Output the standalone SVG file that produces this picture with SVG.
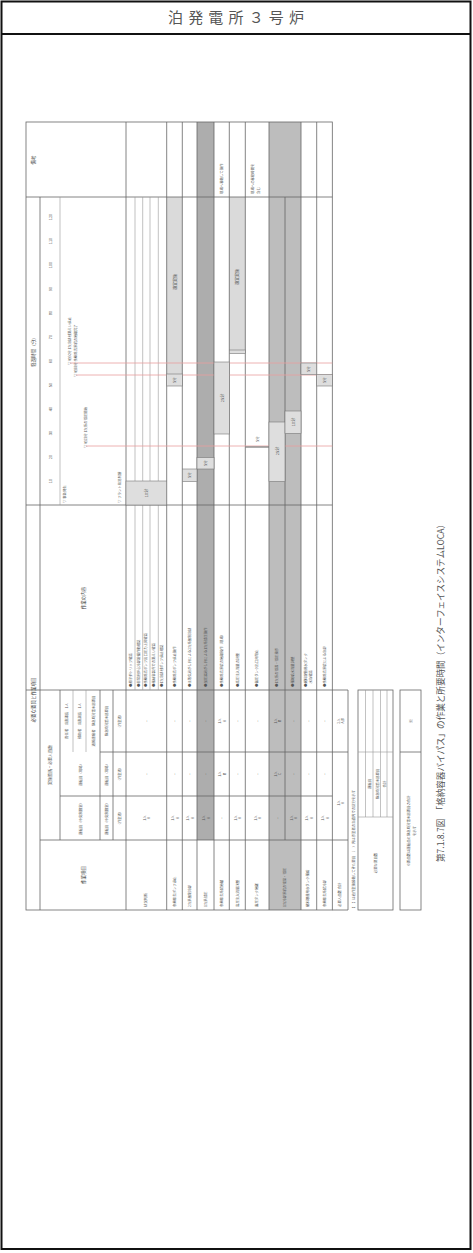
<svg xmlns="http://www.w3.org/2000/svg" width="473" height="1253" viewBox="0 0 473 1253">
<style>
text{font-family:"Noto Sans CJK JP","Noto Sans",sans-serif;fill:#555}
.t{font-size:4px}
.s{font-size:3.4px}
.h{font-size:4.5px;fill:#444}
.ln{stroke:#666;stroke-width:0.8;fill:none}
.lt{stroke:#999;stroke-width:0.6;fill:none}
.red{stroke:#e8a0a0;stroke-width:0.8}
.dk{fill:#adadad}
.md{fill:#bdbdbd}
.lg{fill:#dadada}
.bx{fill:#dedede;stroke:#777;stroke-width:0.6}
.c{text-anchor:middle;dominant-baseline:central}
</style>
<rect x="0" y="0" width="473" height="1253" fill="#fff"/>
<g id="frame">
<rect x="1.5" y="1.5" width="469" height="1247.5" fill="none" stroke="#111" stroke-width="2"/>
<line x1="1.5" y1="34" x2="470.5" y2="34" stroke="#111" stroke-width="2"/>
<text x="236" y="23" font-size="15" text-anchor="middle" textLength="136" fill="#333">泊発電所３号炉</text>
</g>
<g id="fills">
<rect x="197" y="122" width="17" height="718" class="dk"/>
<rect x="269" y="122" width="32" height="788" class="md"/>
<rect x="166.7" y="197" width="15.6" height="177" class="lg"/>
<rect x="229.3" y="197" width="16" height="155" class="lg"/>
</g>
<g id="grid">
<rect x="26" y="122" width="306.3" height="788" class="ln"/>
<line x1="26" y1="197" x2="332.3" y2="197" class="ln"/>
<line x1="26" y1="505" x2="332.3" y2="505" class="ln"/>
<line x1="26" y1="690" x2="348" y2="690" class="ln"/>
<line x1="100" y1="752" x2="348" y2="752" class="ln"/>
<line x1="60" y1="796" x2="332.3" y2="796" class="ln"/>
<line x1="40" y1="840" x2="348" y2="840" class="ln"/>
<line x1="332.3" y1="910" x2="348" y2="910" class="ln"/>
<line x1="348" y1="690" x2="348" y2="910" class="ln"/>
<line x1="126" y1="122" x2="126" y2="910" class="ln"/>
<line x1="166.7" y1="122" x2="166.7" y2="910" class="ln"/>
<line x1="182.3" y1="122" x2="182.3" y2="910" class="ln"/>
<line x1="197" y1="122" x2="197" y2="910" class="ln"/>
<line x1="214" y1="122" x2="214" y2="910" class="ln"/>
<line x1="229.3" y1="122" x2="229.3" y2="910" class="ln"/>
<line x1="245.3" y1="122" x2="245.3" y2="910" class="ln"/>
<line x1="269" y1="122" x2="269" y2="910" class="ln"/>
<line x1="285" y1="197" x2="285" y2="840" class="ln"/>
<line x1="301" y1="122" x2="301" y2="910" class="ln"/>
<line x1="316.7" y1="122" x2="316.7" y2="910" class="ln"/>
<line x1="135" y1="197" x2="135" y2="690" class="lt"/>
<line x1="142.7" y1="197" x2="142.7" y2="690" class="lt"/>
<line x1="150" y1="197" x2="150" y2="690" class="lt"/>
<line x1="158.3" y1="197" x2="158.3" y2="690" class="lt"/>
<line x1="40" y1="197" x2="40" y2="910" class="ln"/>
<line x1="60" y1="197" x2="60" y2="505" class="lt"/>
<line x1="60" y1="690" x2="60" y2="840" class="ln"/>
<line x1="100" y1="690" x2="100" y2="840" class="ln"/>
<line x1="113" y1="690" x2="113" y2="840" class="ln"/>
<line x1="73" y1="690" x2="73" y2="752" class="lt"/>
<line x1="86" y1="690" x2="86" y2="752" class="lt"/>
</g>
<g id="header">
<text class="h c" transform="translate(33,160) rotate(-90)">備考</text>
<text class="h c" transform="translate(33,351) rotate(-90)">経過時間（分）</text>
<text class="h c" transform="translate(33,700) rotate(-90)">必要な要員と作業項目</text>
<text class="h c" transform="translate(83,598) rotate(-90)">作業の内容</text>
<text class="h c" transform="translate(83,875) rotate(-90)">作業項目</text>
<text class="t c" transform="translate(50,765) rotate(-90)">実施箇所・必要人員数</text>
<text class="s c" transform="translate(66.5,721) rotate(-90)">責任者　当直課長　1人</text>
<text class="s c" transform="translate(79.5,721) rotate(-90)">補助者　当直副長　1人</text>
<text class="s c" transform="translate(93,721) rotate(-90)">通報連絡者　緊急時対策本部要員</text>
<text class="s c" transform="translate(80,774) rotate(-90)">運転員（現場）</text>
<text class="s c" transform="translate(80,818) rotate(-90)">運転員（中央制御室）</text>
<text class="s c" transform="translate(106.5,721) rotate(-90)">緊急時対策本部要員</text>
<text class="s c" transform="translate(106.5,774) rotate(-90)">運転員（現場）</text>
<text class="s c" transform="translate(106.5,818) rotate(-90)">運転員（中央制御室）</text>
<text class="s c" transform="translate(119.5,721) rotate(-90)">（作業者）</text>
<text class="s c" transform="translate(119.5,774) rotate(-90)">（作業者）</text>
<text class="s c" transform="translate(119.5,818) rotate(-90)">（作業者）</text>
</g>
<g id="timeline">
<line x1="70" y1="363" x2="332.3" y2="363" class="red"/>
<line x1="76" y1="375" x2="332.3" y2="375" class="red"/>
<line x1="86" y1="446" x2="332.3" y2="446" class="red"/>
<g class="t c">
<text transform="translate(50,481) rotate(-90)">10</text>
<text transform="translate(50,457) rotate(-90)">20</text>
<text transform="translate(50,433) rotate(-90)">30</text>
<text transform="translate(50,409) rotate(-90)">40</text>
<text transform="translate(50,385) rotate(-90)">50</text>
<text transform="translate(50,361) rotate(-90)">60</text>
<text transform="translate(50,337) rotate(-90)">70</text>
<text transform="translate(50,313) rotate(-90)">80</text>
<text transform="translate(50,289) rotate(-90)">90</text>
<text transform="translate(50,265) rotate(-90)">100</text>
<text transform="translate(50,241) rotate(-90)">110</text>
<text transform="translate(50,217) rotate(-90)">120</text>
</g>
<text class="s" transform="translate(66,503) rotate(-90)">▽ 事象発生</text>
<text class="s" transform="translate(121,503) rotate(-90)">▽ プラント状況判断</text>
<text class="s" transform="translate(87,448) rotate(-90)">▽ 約25分 1次系の減圧開始</text>
<text class="s" transform="translate(77,377) rotate(-90)">▽ 約55分 余熱除去系統の隔離完了</text>
<text class="s" transform="translate(71,365) rotate(-90)">▽ 約60分 1次冷却材漏えい停止</text>
</g>
<g id="bars">
<rect x="126" y="481" width="40.7" height="24" class="bx"/>
<text class="t c" transform="translate(146,493) rotate(-90)">10分</text>
<rect x="166.7" y="374" width="15.6" height="12" class="bx"/>
<text class="s c" transform="translate(174.5,380) rotate(-90)">5分</text>
<text class="t c" transform="translate(174.5,282) rotate(-90)">適宜実施</text>
<rect x="182.3" y="469" width="14.7" height="12.5" class="bx"/>
<text class="s c" transform="translate(189.6,475) rotate(-90)">5分</text>
<rect x="197" y="457.5" width="17" height="11.5" class="bx"/>
<text class="s c" transform="translate(205.5,463) rotate(-90)">5分</text>
<rect x="214" y="362" width="15.3" height="72" class="bx"/>
<text class="t c" transform="translate(221.6,398) rotate(-90)">25分</text>
<rect x="229.3" y="350" width="16" height="3.5" class="bx"/>
<text class="t c" transform="translate(237.3,277) rotate(-90)">適宜実施</text>
<line x1="245.3" y1="447" x2="269" y2="447" stroke="#777" stroke-width="1.2"/>
<text class="s c" transform="translate(257,439) rotate(-90)">5分</text>
<rect x="269" y="422" width="16" height="59.5" class="bx"/>
<text class="t c" transform="translate(277,451) rotate(-90)">25分</text>
<rect x="285" y="411" width="16" height="22.5" class="bx"/>
<text class="t c" transform="translate(293,422) rotate(-90)">10分</text>
<rect x="301" y="363" width="15.7" height="11.5" class="bx"/>
<text class="s c" transform="translate(308.8,369) rotate(-90)">5分</text>
<rect x="316.7" y="374.5" width="15.6" height="11.5" class="bx"/>
<text class="s c" transform="translate(324.5,380) rotate(-90)">5分</text>
</g>
<g id="tasks" class="s">
<text transform="translate(131.5,687) rotate(-90)">●原子炉トリップ確認</text>
<text transform="translate(139.5,687) rotate(-90)">●非常用炉心冷却設備作動確認</text>
<text transform="translate(147,687) rotate(-90)">●余熱除去ポンプ出口圧力上昇確認</text>
<text transform="translate(155,687) rotate(-90)">●格納容器外での漏えい確認</text>
<text transform="translate(163,687) rotate(-90)">●1次冷却材ポンプ停止確認</text>
<text transform="translate(175.5,687) rotate(-90)">●余熱除去ポンプ停止操作</text>
<text transform="translate(190.5,687) rotate(-90)">●主蒸気逃がし弁による2次系強制冷却</text>
<text transform="translate(206.5,687) rotate(-90)">●加圧器逃がし弁による1次系減圧操作</text>
<text transform="translate(222.5,687) rotate(-90)">●余熱除去系統の隔離操作（現場）</text>
<text transform="translate(238.5,687) rotate(-90)">●高圧注入流量の調整</text>
<text transform="translate(258,687) rotate(-90)">●蓄圧タンク出口弁閉止</text>
<text transform="translate(278,687) rotate(-90)">●1次系の減温・減圧操作</text>
<text transform="translate(294,687) rotate(-90)">●補助給水流量調整</text>
<text transform="translate(307,687) rotate(-90)">●燃料取替用水タンク</text>
<text transform="translate(312,687) rotate(-90)">　水位確認</text>
<text transform="translate(325.5,687) rotate(-90)">●余熱除去系統による冷却</text>
<text transform="translate(147,907) rotate(-90)">状況判断</text>
<text transform="translate(175.5,907) rotate(-90)">余熱除去ポンプ停止</text>
<text transform="translate(190.5,907) rotate(-90)">2次系強制冷却</text>
<text transform="translate(206.5,907) rotate(-90)">1次系減圧</text>
<text transform="translate(222.5,907) rotate(-90)">余熱除去系統隔離</text>
<text transform="translate(238.5,907) rotate(-90)">高圧注入流量調整</text>
<text transform="translate(258,907) rotate(-90)">蓄圧タンク隔離</text>
<text transform="translate(286,907) rotate(-90)">1次冷却系統の減温・減圧</text>
<text transform="translate(309,907) rotate(-90)">燃料取替用水タンク補給</text>
<text transform="translate(325.5,907) rotate(-90)">余熱除去系統冷却</text>
<text transform="translate(341,907) rotate(-90)">必要人員数 合計</text>
<text transform="translate(222.5,194) rotate(-90)">現場へ移動して操作</text>
<text transform="translate(254,194) rotate(-90)">現場への移動時間を</text>
<text transform="translate(260,194) rotate(-90)">含む</text>
</g>
<g id="staff" class="s c">
<text transform="translate(146,721) rotate(-90)">−</text><text transform="translate(146,774) rotate(-90)">−</text><text transform="translate(144,818) rotate(-90)">1人</text><text transform="translate(148.5,818) rotate(-90)">A</text>
<text transform="translate(174.5,721) rotate(-90)">−</text><text transform="translate(174.5,774) rotate(-90)">−</text><text transform="translate(172.5,818) rotate(-90)">1人</text><text transform="translate(177,818) rotate(-90)">A</text>
<text transform="translate(189.6,721) rotate(-90)">−</text><text transform="translate(189.6,774) rotate(-90)">−</text><text transform="translate(187.6,818) rotate(-90)">1人</text><text transform="translate(192,818) rotate(-90)">A</text>
<text transform="translate(205.5,721) rotate(-90)">−</text><text transform="translate(205.5,774) rotate(-90)">−</text><text transform="translate(203.5,818) rotate(-90)">1人</text><text transform="translate(208,818) rotate(-90)">A</text>
<text transform="translate(219.5,721) rotate(-90)">1人</text><text transform="translate(224,721) rotate(-90)">A</text><text transform="translate(219.5,774) rotate(-90)">1人</text><text transform="translate(224,774) rotate(-90)">B</text><text transform="translate(221.6,818) rotate(-90)">−</text>
<text transform="translate(237.3,721) rotate(-90)">−</text><text transform="translate(237.3,774) rotate(-90)">−</text><text transform="translate(235.3,818) rotate(-90)">1人</text><text transform="translate(239.5,818) rotate(-90)">A</text>
<text transform="translate(257,721) rotate(-90)">−</text><text transform="translate(257,774) rotate(-90)">−</text><text transform="translate(255,818) rotate(-90)">1人</text><text transform="translate(259.5,818) rotate(-90)">A</text>
<text transform="translate(275,721) rotate(-90)">1人</text><text transform="translate(279.5,721) rotate(-90)">B</text><text transform="translate(275,774) rotate(-90)">1人</text><text transform="translate(279.5,774) rotate(-90)">C</text><text transform="translate(277,818) rotate(-90)">−</text>
<text transform="translate(293,721) rotate(-90)">−</text><text transform="translate(293,774) rotate(-90)">−</text><text transform="translate(291,818) rotate(-90)">1人</text><text transform="translate(295.5,818) rotate(-90)">A</text>
<text transform="translate(308.8,721) rotate(-90)">−</text><text transform="translate(308.8,774) rotate(-90)">−</text><text transform="translate(306.8,818) rotate(-90)">1人</text><text transform="translate(311,818) rotate(-90)">A</text>
<text transform="translate(324.5,721) rotate(-90)">−</text><text transform="translate(324.5,774) rotate(-90)">−</text><text transform="translate(322.5,818) rotate(-90)">1人</text><text transform="translate(327,818) rotate(-90)">A</text>
<text transform="translate(338,721) rotate(-90)">2人</text><text transform="translate(342.5,721) rotate(-90)">A,B</text><text transform="translate(338,803) rotate(-90)">1人</text><text transform="translate(342.5,803) rotate(-90)">A</text>
</g>
<g id="notes">
<text class="s" transform="translate(355,910) rotate(-90)">【　】は他作業後移動してきた要員　（　）内は作業者の当直内での区分を示す</text>
<rect x="358" y="690" width="35" height="220" class="ln"/>
<line x1="365.5" y1="690" x2="365.5" y2="817" class="lt"/>
<line x1="373" y1="690" x2="373" y2="817" class="lt"/>
<line x1="380.5" y1="690" x2="380.5" y2="817" class="lt"/>
<line x1="387" y1="690" x2="387" y2="817" class="lt"/>
<line x1="358" y1="752" x2="393" y2="752" class="lt"/>
<line x1="358" y1="817" x2="393" y2="817" class="lt"/>
<text class="s c" transform="translate(375.5,863) rotate(-90)">必要な要員数</text>
<text class="s c" transform="translate(369.5,784) rotate(-90)">運転員</text>
<text class="s c" transform="translate(377,784) rotate(-90)">緊急時対策本部要員</text>
<text class="s c" transform="translate(384,784) rotate(-90)">合計</text>
<rect x="400" y="690" width="21" height="220" class="ln"/>
<line x1="400" y1="752" x2="421" y2="752" class="ln"/>
<text class="t c" transform="translate(410.5,721) rotate(-90)">※</text>
<text class="s c" transform="translate(408,831) rotate(-90)">※要員数は運転員と緊急時対策本部要員の合計</text>
<text class="s c" transform="translate(414,831) rotate(-90)">を示す</text>
</g>
<g id="caption">
<text transform="translate(444,862) rotate(-90)" font-size="9" textLength="342" lengthAdjust="spacingAndGlyphs" fill="#333">第7.1.8.7図　「格納容器バイパス」の作業と所要時間（インターフェイスシステムLOCA）</text>
</g>
</svg>
